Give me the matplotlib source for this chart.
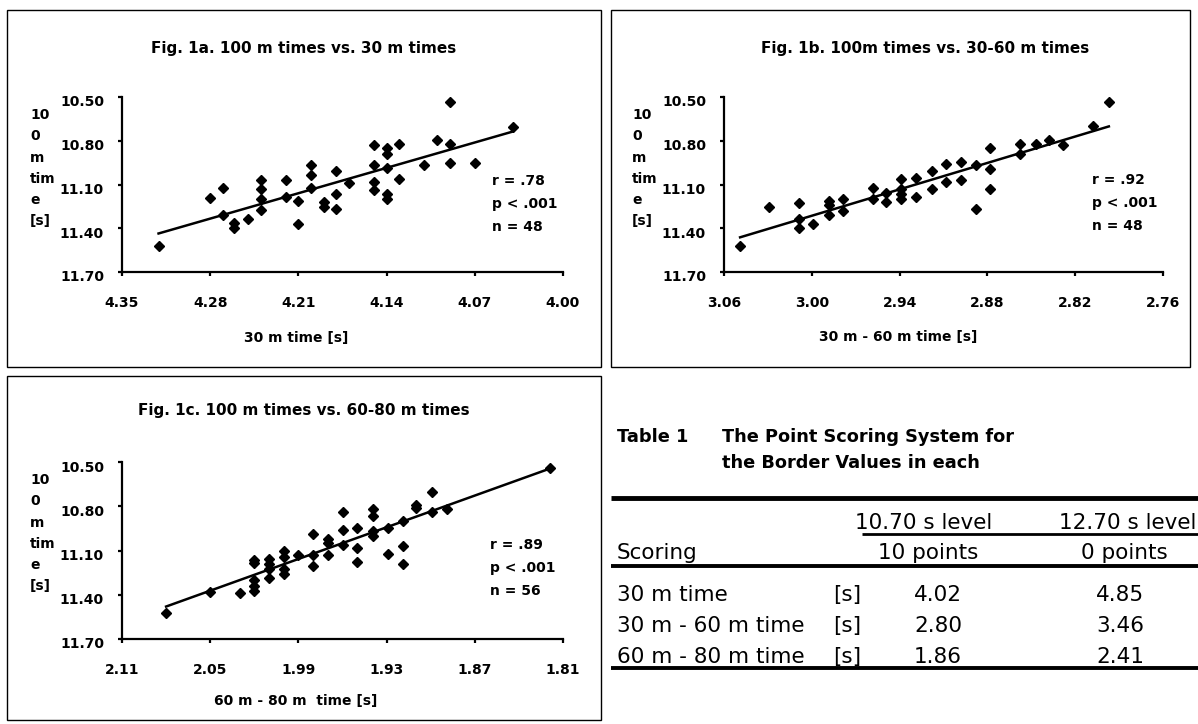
import matplotlib
matplotlib.use("Agg")
import matplotlib.pyplot as plt
from matplotlib.lines import Line2D
from matplotlib.patches import Rectangle
from matplotlib.transforms import ScaledTranslation
import numpy as np

plt.rcParams["font.family"] = ["DejaVu Sans"]

W, H = 1198, 724

# Fig. 1a: 30 m time vs 100 m time
t30_a = [4.321, 4.280, 4.270, 4.270, 4.261, 4.261, 4.250, 4.240, 4.240, 4.240,
         4.240, 4.220, 4.220, 4.210, 4.210, 4.200, 4.200, 4.200, 4.190, 4.190,
         4.180, 4.180, 4.180, 4.170, 4.150, 4.150, 4.150, 4.150, 4.140, 4.140,
         4.140, 4.140, 4.140, 4.130, 4.130, 4.110, 4.100, 4.090, 4.090, 4.090,
         4.070, 4.040]
t100_a = [11.525, 11.190, 11.125, 11.307, 11.365, 11.396, 11.335, 11.067, 11.129, 11.202,
          11.278, 11.067, 11.186, 11.216, 11.374, 10.969, 11.037, 11.124, 11.221, 11.255,
          11.010, 11.163, 11.266, 11.088, 10.832, 10.969, 11.083, 11.136, 10.848, 10.893,
          10.987, 11.163, 11.200, 10.825, 11.060, 10.969, 10.792, 10.534, 10.825, 10.950,
          10.950, 10.706]

# Fig. 1b: 30-60 m time vs 100 m time
t3060_b = [3.049, 3.029, 3.009, 3.009, 3.009, 2.999, 2.988, 2.988, 2.988, 2.979,
           2.979, 2.958, 2.958, 2.949, 2.949, 2.939, 2.939, 2.939, 2.939, 2.929,
           2.929, 2.918, 2.918, 2.908, 2.908, 2.898, 2.898, 2.888, 2.888, 2.878,
           2.878, 2.878, 2.858, 2.858, 2.847, 2.838, 2.828, 2.808, 2.797]
t100_b = [11.525, 11.255, 11.228, 11.335, 11.396, 11.369, 11.216, 11.243, 11.307, 11.197,
          11.282, 11.122, 11.197, 11.159, 11.221, 11.060, 11.129, 11.163, 11.197, 11.053,
          11.186, 11.010, 11.129, 10.957, 11.083, 10.946, 11.067, 10.969, 11.266, 10.850,
          10.992, 11.134, 10.825, 10.893, 10.825, 10.792, 10.832, 10.701, 10.534]

# Fig. 1c: 60-80 m time vs 100 m time
t6080_c = [2.080, 2.050, 2.030, 2.020, 2.020, 2.020, 2.020, 2.020, 2.010, 2.010,
           2.010, 2.010, 2.000, 2.000, 2.000, 2.000, 1.990, 1.980, 1.980, 1.980,
           1.970, 1.970, 1.970, 1.960, 1.960, 1.960, 1.950, 1.950, 1.950, 1.939,
           1.939, 1.939, 1.939, 1.929, 1.929, 1.919, 1.919, 1.919, 1.910, 1.910,
           1.899, 1.899, 1.889, 1.819]
t100_c = [11.522, 11.381, 11.390, 11.163, 11.186, 11.300, 11.340, 11.375, 11.159, 11.193,
          11.227, 11.284, 11.102, 11.141, 11.227, 11.261, 11.131, 10.988, 11.131, 11.204,
          11.022, 11.049, 11.131, 10.841, 10.959, 11.063, 10.950, 11.086, 11.177, 10.818,
          10.868, 10.966, 11.000, 10.950, 11.125, 10.897, 11.068, 11.193, 10.790, 10.810,
          10.700, 10.841, 10.822, 10.541]

y_ticks = [10.50, 10.80, 11.10, 11.40, 11.70]
x_ticks_a = [4.35, 4.28, 4.21, 4.14, 4.07, 4.00]
x_ticks_b = [3.06, 3.00, 2.94, 2.88, 2.82, 2.76]
x_ticks_c = [2.11, 2.05, 1.99, 1.93, 1.87, 1.81]

stats_a = ["r = .78", "p < .001", "n = 48"]
stats_b = ["r = .92", "p < .001", "n = 48"]
stats_c = ["r = .89", "p < .001", "n = 56"]

# Table 1
table_rows = ["30 m time", "30 m - 60 m time", "60 m - 80 m time"]
table_units = ["[s]", "[s]", "[s]"]
table_10pts = ["4.02", "2.80", "1.86"]
table_0pts = ["4.85", "3.46", "2.41"]


def fx(x):
    return x / W


def fy(y):
    return 1 - y / H


def box(fig, x0, y0, x1, y1):
    fig.add_artist(Rectangle((fx(x0), fy(y1)), fx(x1) - fx(x0), fy(y0) - fy(y1),
                             transform=fig.transFigure, fill=False, lw=1.0, ec="black"))


def hline(fig, x0, x1, y, lw):
    fig.add_artist(Line2D([fx(x0), fx(x1)], [fy(y), fy(y)], transform=fig.transFigure,
                          color="black", lw=lw, solid_capstyle="butt"))


def scatter_panel(fig, rect, x, y, xticks, title, title_xy, xlabel, xlabel_xy, stats, stats_xy):
    left, top, right, bottom = rect
    ax = fig.add_axes([fx(left), fy(bottom), fx(right) - fx(left), fy(top) - fy(bottom)])
    ax.plot(x, y, ls="none", marker="D", ms=4.6, color="black", clip_on=False)

    coef = np.polyfit(x, y, 1)
    xl = np.array([max(x), min(x)])
    ax.plot(xl, np.polyval(coef, xl), color="black", lw=1.8)

    ax.set_xlim(xticks[0], xticks[-1])
    ax.set_ylim(y_ticks[-1], y_ticks[0])
    ax.set_xticks(xticks)
    ax.set_xticklabels([f"{v:.2f}" for v in xticks])
    ax.set_yticks(y_ticks)
    ax.set_yticklabels([f"{v:.2f}" for v in y_ticks])
    for side in ["top", "right"]:
        ax.spines[side].set_visible(False)
    for side in ["left", "bottom"]:
        ax.spines[side].set_linewidth(1.6)
    ax.tick_params(width=1.6, length=3, labelsize=10, pad=10)
    ax.tick_params(axis="x", pad=14)
    for lab in ax.get_xticklabels() + ax.get_yticklabels():
        lab.set_fontweight("bold")
    shift = ScaledTranslation(0, -0.04, fig.dpi_scale_trans)
    for lab in ax.get_yticklabels():
        lab.set_transform(lab.get_transform() + shift)

    fig.text(fx(title_xy[0]), fy(title_xy[1]), title, ha="center", va="center",
             fontsize=11, fontweight="bold")
    fig.text(fx(xlabel_xy[0]), fy(xlabel_xy[1]), xlabel, ha="center", va="center",
             fontsize=10, fontweight="bold")
    fig.text(fx(left - 92), fy(top + 11), "10\n0\nm\ntim\ne\n[s]",
             ha="left", va="top", fontsize=10, fontweight="bold", linespacing=1.66)
    for i, s in enumerate(stats):
        fig.text(fx(stats_xy[0]), fy(stats_xy[1] + 23 * i), s, ha="left", va="center",
                 fontsize=10, fontweight="bold")
    return ax


fig = plt.figure(figsize=(W / 100, H / 100), dpi=100)

box(fig, 7, 10, 601, 367)
box(fig, 611, 10, 1190, 367)
box(fig, 7, 376, 601, 720)

scatter_panel(fig, (122, 97, 563, 272), t30_a, t100_a, x_ticks_a,
              "Fig. 1a. 100 m times vs. 30 m times", (304, 49),
              "30 m time [s]", (296, 338), stats_a, (492, 181))
scatter_panel(fig, (724, 97, 1163, 272), t3060_b, t100_b, x_ticks_b,
              "Fig. 1b. 100m times vs. 30-60 m times", (925, 49),
              "30 m - 60 m time [s]", (898, 337), stats_b, (1092, 180))
scatter_panel(fig, (122, 462, 563, 639), t6080_c, t100_c, x_ticks_c,
              "Fig. 1c. 100 m times vs. 60-80 m times", (304, 411),
              "60 m - 80 m  time [s]", (296, 701), stats_c, (490, 545))

# table
fig.text(fx(617), fy(437), "Table 1", ha="left", va="center", fontsize=12.8, fontweight="bold")
fig.text(fx(722), fy(437), "The Point Scoring System for", ha="left", va="center",
         fontsize=12.8, fontweight="bold")
fig.text(fx(722), fy(463), "the Border Values in each", ha="left", va="center",
         fontsize=12.8, fontweight="bold")
hline(fig, 611, 1198, 498, 3.5)

fig.text(fx(855), fy(523), "10.70 s level", ha="left", va="center", fontsize=15.5)
fig.text(fx(1196), fy(523), "12.70 s level", ha="right", va="center", fontsize=15.5)
hline(fig, 862, 1198, 534, 2.0)
fig.text(fx(617), fy(553), "Scoring", ha="left", va="center", fontsize=15.5)
fig.text(fx(928), fy(553), "10 points", ha="center", va="center", fontsize=15.5)
fig.text(fx(1124), fy(553), "0 points", ha="center", va="center", fontsize=15.5)
hline(fig, 611, 1198, 566, 2.8)

for i, (lab, unit, v10, v0) in enumerate(zip(table_rows, table_units, table_10pts, table_0pts)):
    yy = 595 + 31 * i
    fig.text(fx(617), fy(yy), lab, ha="left", va="center", fontsize=15.5)
    fig.text(fx(833), fy(yy), unit, ha="left", va="center", fontsize=15.5)
    fig.text(fx(938), fy(yy), v10, ha="center", va="center", fontsize=15.5)
    fig.text(fx(1120), fy(yy), v0, ha="center", va="center", fontsize=15.5)
hline(fig, 611, 1198, 668, 2.8)

fig.savefig("out.png", dpi=100)
